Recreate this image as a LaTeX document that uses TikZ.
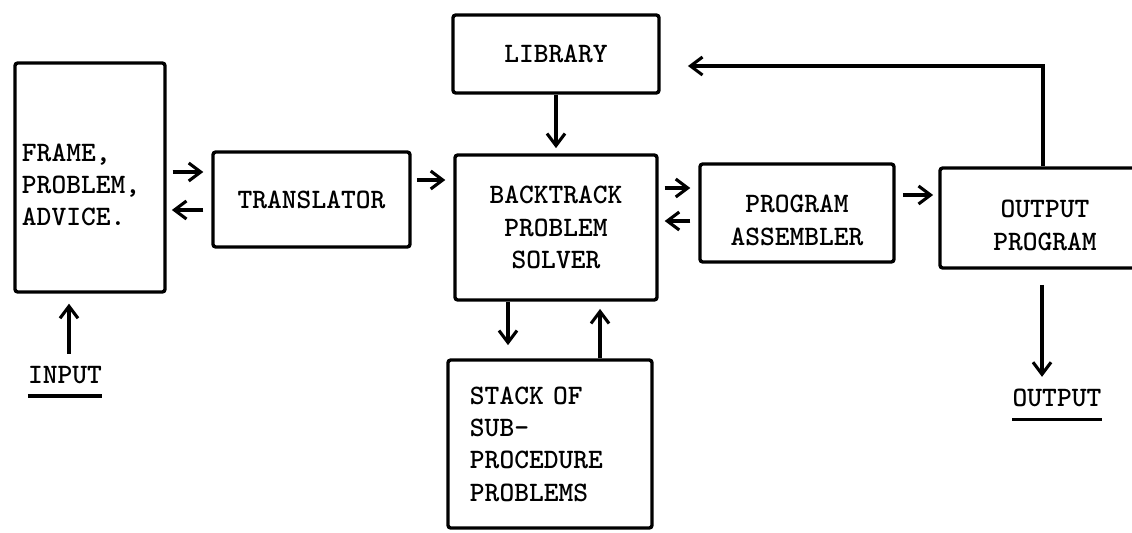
\documentclass[tikz,border=0pt]{standalone}
\usepackage{fontspec}
\usetikzlibrary{arrows.meta}

\begin{document}
\begin{tikzpicture}[x = 0.025cm, y = -0.025cm,
	> = {Straight Barb[length = 0.3cm, width = 0.45cm]},
	every node/.style = {font = \ttfamily\bfseries\fontsize{20}{23}\selectfont},
	block/.style = {draw, line width = 2.4pt, rounded corners = 2pt, align = center},
	flow/.style = {->, line width = 2.2pt},
	io/.style = {inner xsep = 0pt, inner ysep = 0.3cm}]

	\useasboundingbox (0, 0) rectangle (1132, 533);

	% boxes
	\node [block, align = left, minimum height = 5.725cm, text width = 3.4cm, inner xsep = 0.175cm] (frame) at (90, 177.5) {\mbox{}\\FRAME,\\PROBLEM,\\ADVICE.};
	\node [block, minimum width = 4.925cm, minimum height = 2.375cm] (trans) at (311.5, 199.5) {TRANSLATOR};
	\node [block, minimum width = 5.15cm, minimum height = 1.95cm] (lib) at (556, 54) {LIBRARY};
	\node [block, minimum width = 5.05cm, minimum height = 3.625cm] (back) at (556, 227.5) {BACKTRACK\\PROBLEM\\SOLVER};
	\node [block, minimum width = 4.85cm, minimum height = 2.45cm] (asm) at (797, 213) {\mbox{}\\PROGRAM\\ASSEMBLER};
	\node [block, minimum width = 5.25cm, minimum height = 2.5cm] (outp) at (1045, 218) {\mbox{}\\OUTPUT\\PROGRAM};
	\node [block, align = left, minimum height = 4.2cm, text width = 4.0cm, inner xsep = 0.55cm] (stack) at (550, 444) {STACK OF\\SUB-\\PROCEDURE\\PROBLEMS};

	% input and output
	\node [io] (inp) at (65, 375) {INPUT};
	\node [io] (out) at (1057, 398) {OUTPUT};
	\draw [line width = 2.4pt] (inp.south west) -- (inp.south east);
	\draw [line width = 2.4pt] (out.south west) -- (out.south east);

	\begin{scope}[flow]

		\draw [shorten <= 0.15cm, shorten >= 0.2cm] (frame.east |- 0, 172) -- (trans.west |- 0, 172);
		\draw [shorten <= 0.2cm, shorten >= 0.13cm] (trans.west |- 0, 210) -- (frame.east |- 0, 210);
		\draw [shorten <= 0.13cm, shorten >= 0.2cm] (trans.east |- 0, 180) -- (back.west |- 0, 180);

		\draw [shorten >= 0.13cm] (lib.south) -- (back.north);

		\draw [shorten <= 0.15cm, shorten >= 0.2cm] (back.east |- 0, 188) -- (asm.west |- 0, 188);
		\draw [shorten <= 0.2cm, shorten >= 0.15cm] (asm.west |- 0, 221) -- (back.east |- 0, 221);
		\draw [shorten <= 0.18cm, shorten >= 0.13cm] (asm.east |- 0, 195) -- (outp.west |- 0, 195);

		\draw [shorten >= 0.68cm] (outp.north -| 1043, 0) |- (lib.east |- 0, 66);

		\draw [shorten <= 0.38cm] (outp.south -| 1042, 0) -- (out.north -| 1042, 0);
		\draw [shorten >= 0.25cm] (inp.north -| 69, 0) -- (frame.south -| 69, 0);

		\draw [shorten >= 0.33cm] (back.south -| 508, 0) -- (stack.north -| 508, 0);
		\draw [shorten >= 0.18cm] (stack.north -| 600, 0) -- (back.south -| 600, 0);

	\end{scope}

\end{tikzpicture}
\end{document}
